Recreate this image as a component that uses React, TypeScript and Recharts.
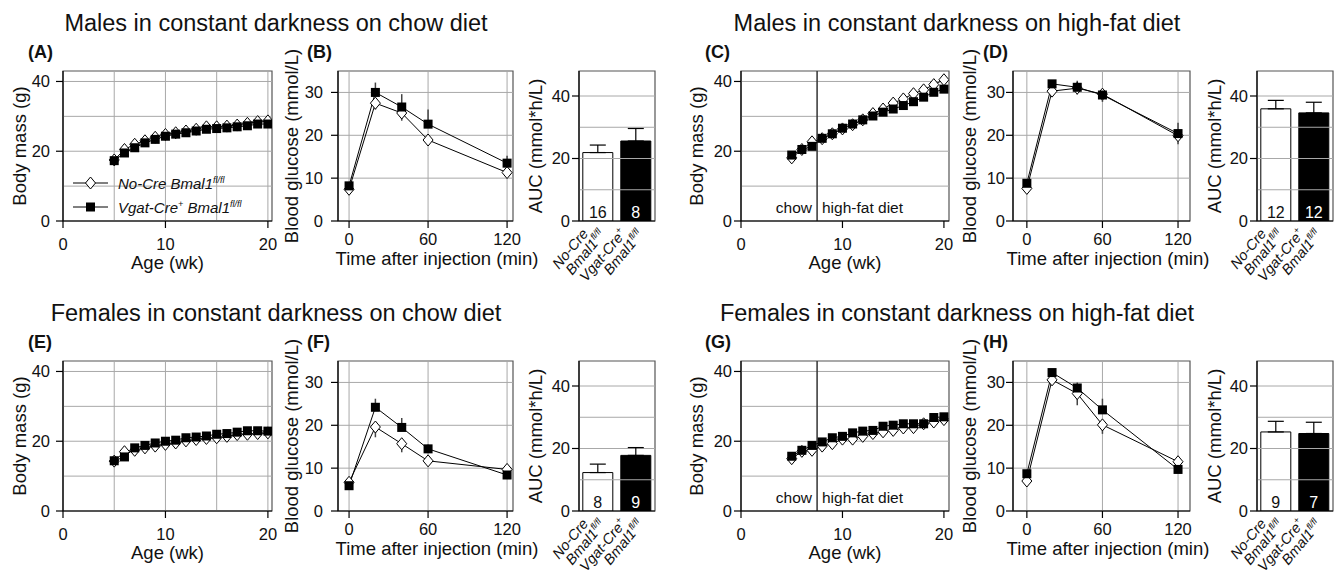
import React from 'react'
import {
  LineChart, Line, BarChart, Bar, Cell, XAxis, YAxis,
  ReferenceLine, ReferenceArea, ErrorBar, LabelList,
} from 'recharts'

const FONT = '"Liberation Sans", Arial, Helvetica, sans-serif'
const INK = '#111'
const GRID = '#a8a8a8'
const FRAME = '#555'

// ---------- data ----------
const weeks = [5, 6, 7, 8, 9, 10, 11, 12, 13, 14, 15, 16, 17, 18, 19, 20]
const dietSwitchWeek = 7.5
const dietLabels = ['chow', 'high-fat diet']

// body mass (g), No-Cre (open diamonds) and Vgat-Cre+ (black squares)
const massMaleChowNoCre = [17.5, 20.5, 22.0, 23.0, 24.0, 24.8, 25.3, 25.8, 26.3, 27.0, 27.0, 27.2, 27.5, 28.0, 28.5, 28.7]
const massMaleChowVgat = [17.3, 19.5, 21.0, 22.4, 23.4, 24.3, 24.9, 25.3, 25.8, 26.3, 26.5, 26.7, 27.0, 27.3, 27.8, 27.8]
const massMaleHfdNoCre = [18.1, 20.5, 22.7, 23.6, 25.0, 26.4, 27.6, 29.0, 30.8, 32.1, 33.8, 35.0, 36.5, 37.6, 39.1, 40.5]
const massMaleHfdVgat = [18.9, 20.5, 21.4, 23.7, 25.0, 26.6, 27.8, 29.0, 30.1, 31.2, 32.1, 33.1, 34.2, 35.5, 36.9, 37.8]
const massFemChowNoCre = [14.3, 17.0, 17.4, 18.1, 18.6, 19.1, 19.5, 20.1, 20.5, 20.8, 21.0, 21.4, 21.9, 22.0, 22.2, 22.4]
const massFemChowVgat = [14.4, 15.5, 18.1, 18.8, 19.5, 20.0, 20.3, 21.0, 21.2, 21.5, 22.0, 22.2, 22.6, 23.0, 23.0, 22.9]
const massFemHfdNoCre = [15.0, 17.1, 17.4, 18.6, 19.3, 20.6, 20.6, 21.4, 22.2, 22.7, 23.1, 23.8, 23.9, 25.0, 25.5, 26.2]
const massFemHfdVgat = [15.7, 17.4, 18.8, 19.8, 21.0, 21.4, 22.4, 22.9, 23.1, 24.3, 24.6, 25.0, 25.0, 25.0, 26.8, 27.0]

// glucose tolerance (mmol/L)
const glucTimes = [0, 20, 40, 60, 120]
const glucMaleChowNoCre = [7.4, 27.5, 25.2, 18.9, 11.3]
const glucMaleChowNoCreErr = [0.5, 1.5, 1.8, 1.2, 0.7]
const glucMaleChowVgat = [8.2, 30.0, 26.6, 22.6, 13.5]
const glucMaleChowVgatErr = [0.6, 2.3, 3.0, 3.4, 1.7]
const glucMaleHfdNoCre = [7.6, 30.3, 31.0, 29.6, 19.9]
const glucMaleHfdNoCreErr = [0.5, 1.0, 1.5, 1.8, 2.0]
const glucMaleHfdVgat = [8.8, 32.0, 31.2, 29.4, 20.4]
const glucMaleHfdVgatErr = [0.6, 0.6, 1.5, 1.2, 2.5]
const glucFemChowNoCre = [6.7, 19.6, 15.7, 11.7, 9.7]
const glucFemChowNoCreErr = [0.5, 2.4, 2.0, 1.0, 1.1]
const glucFemChowVgat = [5.9, 24.2, 19.5, 14.5, 8.4]
const glucFemChowVgatErr = [0.5, 2.0, 2.2, 1.0, 0.6]
const glucFemHfdNoCre = [7.0, 30.6, 27.4, 20.1, 11.5]
const glucFemHfdNoCreErr = [0.4, 1.0, 2.7, 2.1, 0.6]
const glucFemHfdVgat = [8.7, 32.3, 28.7, 23.6, 9.7]
const glucFemHfdVgatErr = [0.5, 0.5, 1.3, 2.6, 0.6]

// area under curve (mmol*h/L)
const aucGroups = ['No-Cre', 'Vgat-Cre']
const aucGroupSup = ['', '+']
const gene = 'Bmal1'
const allele = 'fl/fl'
const aucFill = ['#fff', '#000']
const nFill = ['#111', '#fff']
const aucMaleChow = [21.9, 25.6]
const aucMaleChowErr = [2.4, 4.0]
const nMaleChow = [16, 8]
const aucMaleHfd = [35.9, 34.6]
const aucMaleHfdErr = [2.7, 3.4]
const nMaleHfd = [12, 12]
const aucFemChow = [12.3, 17.8]
const aucFemChowErr = [2.7, 2.5]
const nFemChow = [8, 9]
const aucFemHfd = [25.3, 24.8]
const aucFemHfdErr = [3.4, 3.6]
const nFemHfd = [9, 7]

// axes
const bodyXTicks = [0, 10, 20]
const bodyYTicks = [0, 20, 40]
const bodyHGrid = [10, 20, 30, 40]
const bodyVGrid = [5, 10, 15, 20]
const bodyYMax = 43
const glucXTicks = [0, 60, 120]
const glucYTicks = [0, 10, 20, 30]
const glucHGrid = [10, 20, 30]
const glucVGrid = [0, 60, 120]
const glucYMax = 35
const aucYTicks = [0, 20, 40]
const aucHGrid = [10, 20, 30, 40]
const aucYMax = 48

const titles = [
  'Males in constant darkness on chow diet',
  'Males in constant darkness on high-fat diet',
  'Females in constant darkness on chow diet',
  'Females in constant darkness on high-fat diet',
]
const panelLetters = [['(A)', '(B)', '(C)', '(D)'], ['(E)', '(F)', '(G)', '(H)']]

// ---------- layout ----------
const ROW_TOP = [71, 361]
const PH = 150
const YW = 50
const MT = 10
const MR = 10

const axisLine = { stroke: '#000', strokeWidth: 1.2 }
const tickText = { fill: INK, fontSize: 16.5, fontFamily: FONT }

function Diamond(p: any) {
  const { cx, cy, index } = p
  if (cx == null || cy == null) return <g key={`dn-${index}`} />
  return (
    <path
      key={`d-${index}`}
      d={`M${cx},${cy - 6}L${cx + 5},${cy}L${cx},${cy + 6}L${cx - 5},${cy}Z`}
      fill="#fff"
      stroke="#000"
      strokeWidth={1}
    />
  )
}

function Square(p: any) {
  const { cx, cy, index } = p
  if (cx == null || cy == null) return <g key={`sn-${index}`} />
  return <rect key={`s-${index}`} x={cx - 4.5} y={cy - 4.5} width={9} height={9} fill="#000" />
}

function BodyPanel({ left, top, width, open, black, hfd, xMax, yTickMargin }: any) {
  const data = weeks.map((wk, i) => ({ wk, open: open[i], black: black[i] }))
  const XH = 40
  return (
    <div style={{ position: 'absolute', left: left - YW, top: top - MT }}>
      <LineChart
        width={YW + width + MR}
        height={MT + PH + XH}
        data={data}
        margin={{ top: MT, right: MR, bottom: 0, left: 0 }}
      >
        <XAxis
          dataKey="wk" type="number" domain={[0, xMax]} ticks={bodyXTicks} allowDataOverflow
          height={XH} axisLine={axisLine} tickLine={axisLine} tickSize={7} tickMargin={10} tick={tickText}
        />
        <YAxis
          type="number" domain={[0, bodyYMax]} ticks={bodyYTicks} allowDataOverflow
          width={YW} axisLine={axisLine} tickLine={axisLine} tickSize={7} tickMargin={yTickMargin} tick={tickText}
        />
        {bodyHGrid.map(v => <ReferenceLine key={`h${v}`} y={v} stroke={GRID} />)}
        {!hfd && bodyVGrid.map(v => <ReferenceLine key={`v${v}`} x={v} stroke={GRID} />)}
        <ReferenceArea y1={0} y2={bodyYMax} fill="none" stroke={FRAME} strokeWidth={1.2} />
        {hfd && <ReferenceLine x={dietSwitchWeek} stroke="#333" strokeWidth={1.5} />}
        <Line dataKey="open" type="linear" stroke="#000" strokeWidth={1} dot={Diamond} activeDot={false} isAnimationActive={false} />
        <Line dataKey="black" type="linear" stroke="#000" strokeWidth={1} dot={Square} activeDot={false} isAnimationActive={false} />
      </LineChart>
    </div>
  )
}

function GlucPanel({ left, top, width, open, openErr, black, blackErr, xDomain, yTickMargin }: any) {
  const data = glucTimes.map((t, i) => ({
    t,
    open: open[i],
    openErr: [openErr[i], 0],
    black: black[i],
    blackErr: [0, blackErr[i]],
  }))
  const XH = 40
  return (
    <div style={{ position: 'absolute', left: left - YW, top: top - MT }}>
      <LineChart
        width={YW + width + MR}
        height={MT + PH + XH}
        data={data}
        margin={{ top: MT, right: MR, bottom: 0, left: 0 }}
      >
        <XAxis
          dataKey="t" type="number" domain={xDomain} ticks={glucXTicks} allowDataOverflow
          height={XH} axisLine={axisLine} tickLine={axisLine} tickSize={7} tickMargin={5} tick={tickText}
        />
        <YAxis
          type="number" domain={[0, glucYMax]} ticks={glucYTicks} allowDataOverflow
          width={YW} axisLine={axisLine} tickLine={axisLine} tickSize={7} tickMargin={yTickMargin} tick={tickText}
        />
        {glucHGrid.map(v => <ReferenceLine key={`h${v}`} y={v} stroke={GRID} />)}
        {glucVGrid.map(v => <ReferenceLine key={`v${v}`} x={v} stroke={GRID} />)}
        <ReferenceArea y1={0} y2={glucYMax} fill="none" stroke={FRAME} strokeWidth={1.2} />
        <Line dataKey="open" type="linear" stroke="#000" strokeWidth={1} dot={Diamond} activeDot={false} isAnimationActive={false}>
          <ErrorBar dataKey="openErr" width={0} stroke="#444" strokeWidth={1.5} direction="y" />
        </Line>
        <Line dataKey="black" type="linear" stroke="#000" strokeWidth={1} dot={Square} activeDot={false} isAnimationActive={false}>
          <ErrorBar dataKey="blackErr" width={0} stroke="#444" strokeWidth={1.5} direction="y" />
        </Line>
      </LineChart>
    </div>
  )
}

function GroupTick(props: any) {
  const { x, y, payload } = props
  let i = aucGroups.indexOf(payload?.value)
  if (i < 0) i = props.index ?? 0
  const sup = aucGroupSup[i]
  return (
    <g transform={`translate(${x - 9},${y + 5})`}>
      <text transform="rotate(-50)" textAnchor="end" fontStyle="italic" fontSize={14.5} fontFamily={FONT} fill={INK}>
        <tspan x={0} dy={0}>
          {aucGroups[i]}
          {sup ? <tspan dy={-6} fontSize={9}>{sup}</tspan> : null}
        </tspan>
        <tspan x={10} dy={sup ? 20 : 14}>
          {gene}
          <tspan dy={-6} fontSize={9}>{allele}</tspan>
        </tspan>
      </text>
    </g>
  )
}

function NLabel(props: any) {
  const vb = props.viewBox ?? props
  const i = props.index ?? 0
  const cx = vb.x + vb.width / 2
  const base = vb.y + vb.height
  return (
    <text x={cx} y={base - 3} textAnchor="middle" fontSize={16} fontFamily={FONT} fill={nFill[i]}>
      {props.value}
    </text>
  )
}

function AucPanel({ left, top, width, values, errs, ns }: any) {
  const data = aucGroups.map((g, i) => ({ group: g, auc: values[i], err: [0, errs[i]], n: ns[i] }))
  const XH = 80
  return (
    <div style={{ position: 'absolute', left: left - YW, top: top - MT }}>
      <BarChart
        width={YW + width + MR}
        height={MT + PH + XH}
        data={data}
        margin={{ top: MT, right: MR, bottom: 0, left: 0 }}
        barCategoryGap="10%"
      >
        <XAxis
          dataKey="group" type="category" interval={0} height={XH}
          axisLine={axisLine} tickLine={false} tickSize={0} tickMargin={8} tick={<GroupTick />}
        />
        <YAxis
          type="number" domain={[0, aucYMax]} ticks={aucYTicks} allowDataOverflow
          width={YW} axisLine={axisLine} tickLine={axisLine} tickSize={7} tickMargin={2} tick={tickText}
        />
        {aucHGrid.map(v => <ReferenceLine key={`h${v}`} y={v} stroke={GRID} />)}
        <ReferenceArea y1={0} y2={aucYMax} fill="none" stroke={FRAME} strokeWidth={1.2} />
        <Bar dataKey="auc" stroke="#000" strokeWidth={1} isAnimationActive={false}>
          {data.map((d, i) => <Cell key={d.group} fill={aucFill[i]} />)}
          <ErrorBar dataKey="err" width={8} stroke="#000" strokeWidth={1.2} direction="y" />
          <LabelList dataKey="n" content={NLabel} />
        </Bar>
      </BarChart>
    </div>
  )
}

function Overlay() {
  const titleX = [276, 957]
  const letterX = [28, 307, 705, 983]
  const yTitleX = [20, 292, 536, 697, 970, 1215]
  const yTitles = ['Body mass (g)', 'Blood glucose (mmol/L)', 'AUC (mmol*h/L)']
  const common = { fontFamily: FONT, fill: INK }
  return (
    <svg width={1340} height={586} style={{ position: 'absolute', left: 0, top: 0, pointerEvents: 'none' }}>
      {titles.map((t, k) => (
        <text key={t} x={titleX[k % 2]} y={(k < 2 ? ROW_TOP[0] : ROW_TOP[1]) - 40} textAnchor="middle" fontSize={23.5} {...common}>
          {t}
        </text>
      ))}
      {ROW_TOP.map((rt, r) => (
        <g key={`row${r}`}>
          {panelLetters[r].map((l, c) => (
            <text key={l} x={letterX[c]} y={rt - 13} fontSize={18} fontWeight="bold" {...common}>{l}</text>
          ))}
          {yTitleX.map((cx, c) => {
            const cy = rt + PH / 2
            return (
              <text key={`yt${c}`} x={cx} y={cy} dy="0.35em" textAnchor="middle" fontSize={18.5}
                transform={`rotate(-90 ${cx} ${cy})`} {...common}>
                {yTitles[c % 3]}
              </text>
            )
          })}
          <text x={167.5} y={rt + 198} textAnchor="middle" fontSize={18.5} {...common}>Age (wk)</text>
          <text x={845} y={rt + 198} textAnchor="middle" fontSize={18.5} {...common}>Age (wk)</text>
          <text x={437} y={rt + 194} textAnchor="middle" fontSize={18.5} {...common}>Time after injection (min)</text>
          <text x={1108} y={rt + 194} textAnchor="middle" fontSize={18.5} {...common}>Time after injection (min)</text>
          <text x={812} y={rt + 142} textAnchor="end" fontSize={15.5} {...common}>{dietLabels[0]}</text>
          <text x={822} y={rt + 142} textAnchor="start" fontSize={15.5} {...common}>{dietLabels[1]}</text>
        </g>
      ))}
      {/* legend in panel A */}
      {aucGroups.map((g, i) => {
        const ly = 183 + i * 24
        return (
          <g key={`lg${g}`}>
            <line x1={73} x2={108} y1={ly} y2={ly} stroke="#000" strokeWidth={1} />
            {i === 0 ? Diamond({ cx: 90.5, cy: ly, index: 100 }) : Square({ cx: 90.5, cy: ly, index: 101 })}
            <text x={118} y={ly + 5.5} fontSize={15} fontStyle="italic" {...common}>
              {g}
              {aucGroupSup[i] ? <tspan dy={-6} fontSize={9}>{aucGroupSup[i]}</tspan> : null}
              <tspan dy={aucGroupSup[i] ? 6 : 0}>{` ${gene}`}</tspan>
              <tspan dy={-6} fontSize={9}>{allele}</tspan>
            </text>
          </g>
        )
      })}
    </svg>
  )
}

export default function App() {
  const [r0, r1] = ROW_TOP
  const glucL = [-8.4, 124.5]
  const glucR = [-11, 129.5]
  return (
    <div style={{ position: 'absolute', left: 0, top: 0, width: 1340, height: 586, background: '#fff', overflow: 'hidden', fontFamily: FONT }}>
      <BodyPanel left={63} top={r0} width={209} open={massMaleChowNoCre} black={massMaleChowVgat} hfd={false} xMax={20.4} yTickMargin={6} />
      <GlucPanel left={338} top={r0} width={175} open={glucMaleChowNoCre} openErr={glucMaleChowNoCreErr}
        black={glucMaleChowVgat} blackErr={glucMaleChowVgatErr} xDomain={glucL} yTickMargin={8} />
      <AucPanel left={579} top={r0} width={76} values={aucMaleChow} errs={aucMaleChowErr} ns={nMaleChow} />
      <BodyPanel left={741} top={r0} width={208} open={massMaleHfdNoCre} black={massMaleHfdVgat} hfd xMax={20.5} yTickMargin={2} />
      <GlucPanel left={1013} top={r0} width={177} open={glucMaleHfdNoCre} openErr={glucMaleHfdNoCreErr}
        black={glucMaleHfdVgat} blackErr={glucMaleHfdVgatErr} xDomain={glucR} yTickMargin={1} />
      <AucPanel left={1257} top={r0} width={76} values={aucMaleHfd} errs={aucMaleHfdErr} ns={nMaleHfd} />

      <BodyPanel left={63} top={r1} width={209} open={massFemChowNoCre} black={massFemChowVgat} hfd={false} xMax={20.4} yTickMargin={6} />
      <GlucPanel left={338} top={r1} width={175} open={glucFemChowNoCre} openErr={glucFemChowNoCreErr}
        black={glucFemChowVgat} blackErr={glucFemChowVgatErr} xDomain={glucL} yTickMargin={8} />
      <AucPanel left={579} top={r1} width={76} values={aucFemChow} errs={aucFemChowErr} ns={nFemChow} />
      <BodyPanel left={741} top={r1} width={208} open={massFemHfdNoCre} black={massFemHfdVgat} hfd xMax={20.5} yTickMargin={2} />
      <GlucPanel left={1013} top={r1} width={177} open={glucFemHfdNoCre} openErr={glucFemHfdNoCreErr}
        black={glucFemHfdVgat} blackErr={glucFemHfdVgatErr} xDomain={glucR} yTickMargin={1} />
      <AucPanel left={1257} top={r1} width={76} values={aucFemHfd} errs={aucFemHfdErr} ns={nFemHfd} />

      <Overlay />
    </div>
  )
}
